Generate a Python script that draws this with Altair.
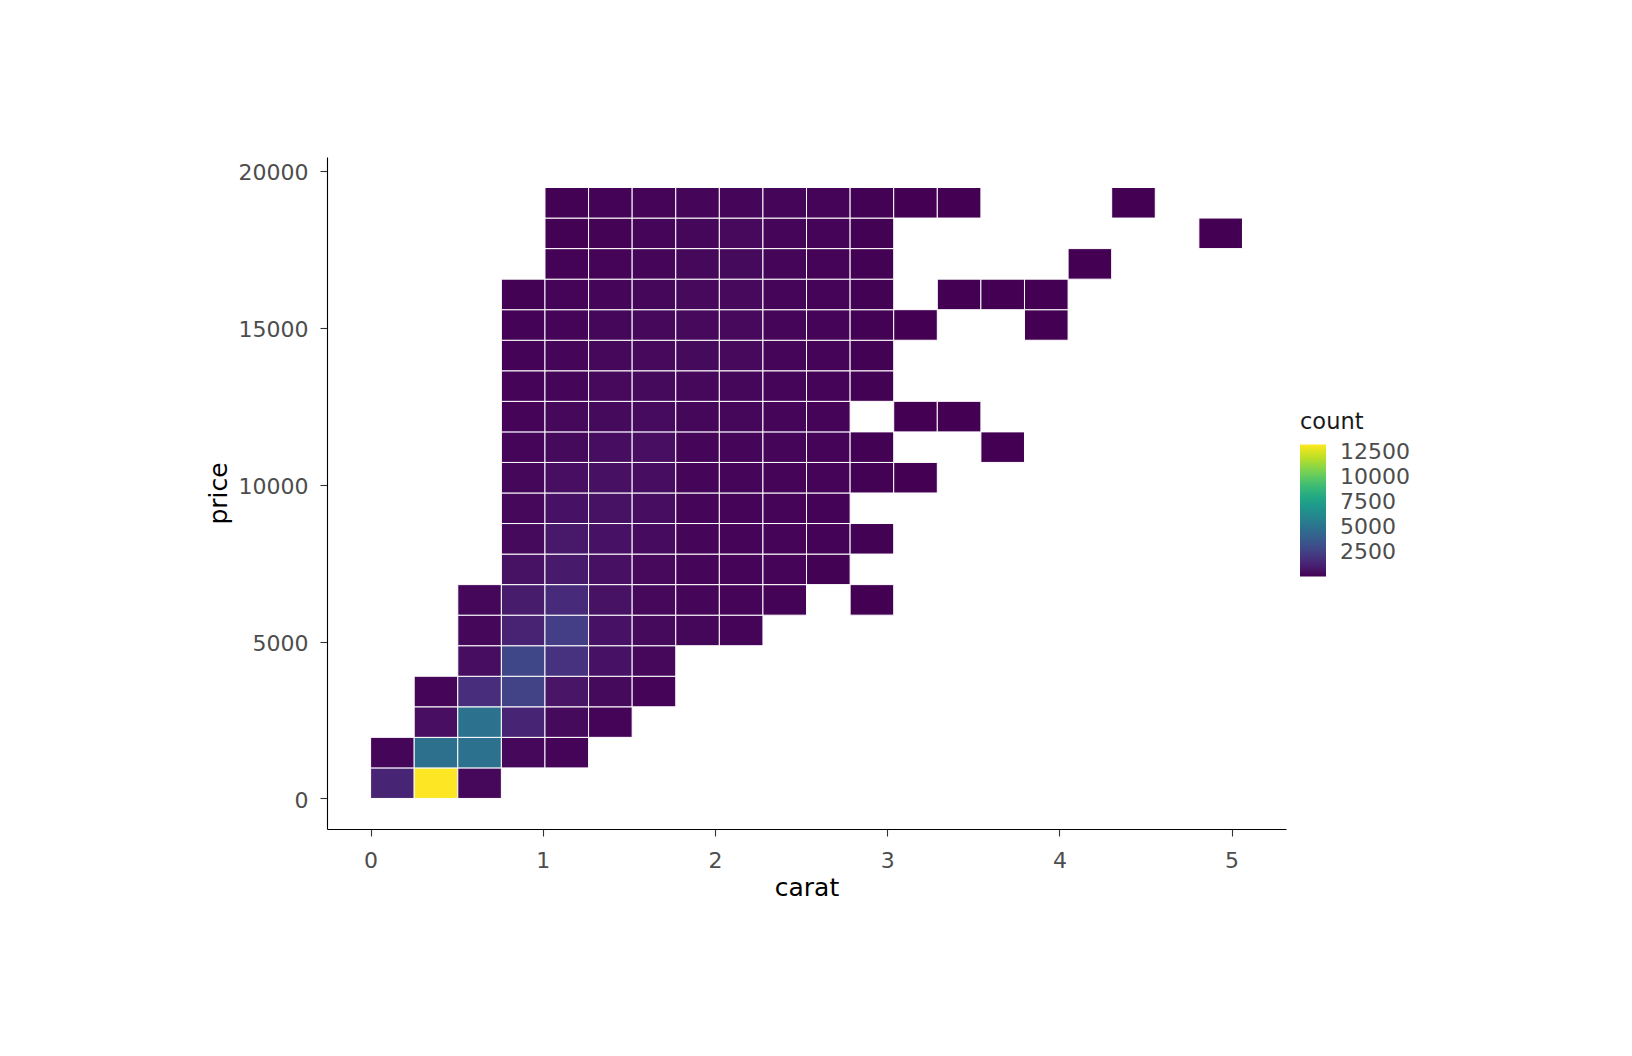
import altair as alt
import pandas as pd

# Bin sizes of the 2-D histogram (20 bins over the data range)
CARAT_BIN = 0.253158
PRICE_BIN = 973.526

# Price-bin rows (0 = lowest price bin): carat-bin columns present and their counts
row_cols = [
    [0, 1, 2],
    [0, 1, 2, 3, 4],
    [1, 2, 3, 4, 5],
    [1, 2, 3, 4, 5, 6],
    [2, 3, 4, 5, 6],
    [2, 3, 4, 5, 6, 7, 8],
    [2, 3, 4, 5, 6, 7, 8, 9, 11],
    [3, 4, 5, 6, 7, 8, 9, 10],
    [3, 4, 5, 6, 7, 8, 9, 10, 11],
    [3, 4, 5, 6, 7, 8, 9, 10],
    [3, 4, 5, 6, 7, 8, 9, 10, 11, 12],
    [3, 4, 5, 6, 7, 8, 9, 10, 11, 14],
    [3, 4, 5, 6, 7, 8, 9, 10, 12, 13],
    [3, 4, 5, 6, 7, 8, 9, 10, 11],
    [3, 4, 5, 6, 7, 8, 9, 10, 11],
    [3, 4, 5, 6, 7, 8, 9, 10, 11, 12, 15],
    [3, 4, 5, 6, 7, 8, 9, 10, 11, 13, 14, 15],
    [4, 5, 6, 7, 8, 9, 10, 11, 16],
    [4, 5, 6, 7, 8, 9, 10, 11, 19],
    [4, 5, 6, 7, 8, 9, 10, 11, 12, 13, 17],
]
row_counts = [
    [1300, 13300, 250],
    [150, 4900, 5000, 250, 120],
    [450, 5000, 1300, 300, 100],
    [150, 1700, 2600, 700, 300, 100],
    [400, 2800, 1900, 600, 250],
    [200, 1250, 2400, 600, 300, 200, 100],
    [200, 950, 1600, 550, 250, 150, 100, 60, 5],
    [550, 900, 500, 280, 150, 120, 90, 40],
    [300, 800, 600, 350, 150, 120, 90, 60, 20],
    [250, 600, 550, 400, 150, 120, 100, 60],
    [200, 450, 500, 400, 180, 150, 120, 90, 30, 6],
    [150, 320, 400, 450, 180, 180, 130, 90, 35, 2],
    [120, 230, 320, 350, 200, 200, 150, 90, 4, 3],
    [90, 180, 280, 300, 250, 220, 150, 100, 30],
    [70, 150, 230, 280, 300, 260, 150, 90, 25],
    [60, 120, 200, 230, 270, 270, 150, 90, 35, 6, 2],
    [30, 100, 150, 200, 270, 270, 150, 90, 30, 4, 3, 2],
    [60, 110, 150, 250, 300, 150, 100, 35, 1],
    [50, 80, 150, 220, 270, 160, 90, 30, 1],
    [40, 70, 120, 150, 180, 150, 90, 50, 12, 6, 2],
]

x_ticks = [0, 1, 2, 3, 4, 5]
y_ticks = [0, 5000, 10000, 15000, 20000]
legend_ticks = [2500, 5000, 7500, 10000, 12500]

records = []
for r, (cols, cnts) in enumerate(zip(row_cols, row_counts)):
    for c, n in zip(cols, cnts):
        records.append({
            "carat": c * CARAT_BIN,
            "carat2": (c + 1) * CARAT_BIN,
            "price": r * PRICE_BIN,
            "price2": (r + 1) * PRICE_BIN,
            "count": n,
        })
df = pd.DataFrame(records)

FONT = "DejaVu Sans"
cmin, cmax = min(df["count"]), max(df["count"])

chart = alt.Chart(df).mark_rect(stroke="white", strokeWidth=1).encode(
    x=alt.X("carat:Q",
            scale=alt.Scale(domain=[-0.2532, 5.316], nice=False, zero=False),
            axis=alt.Axis(values=x_ticks, title="carat", format="d")),
    x2="carat2:Q",
    y=alt.Y("price:Q",
            scale=alt.Scale(domain=[-974, 20443], nice=False, zero=False),
            axis=alt.Axis(values=y_ticks, title="price", format="d")),
    y2="price2:Q",
    color=alt.Color("count:Q",
                    scale=alt.Scale(scheme="viridis", domain=[cmin, cmax], nice=False, zero=False),
                    legend=alt.Legend(title="count", values=legend_ticks, format="d",
                                      orient="none", legendX=973, legendY=254,
                                      gradientLength=132, gradientThickness=26,
                                      gradientStrokeWidth=0,
                                      titleFontSize=22.5, titleFont=FONT, titleFontWeight="normal",
                                      titleColor="#1a1a1a", titlePadding=11,
                                      labelFontSize=22, labelFont=FONT, labelColor="#4d4d4d",
                                      labelOffset=14, direction="vertical")),
).properties(
    width=959, height=672,
    autosize=alt.AutoSizeParams(type="none"),
    padding={"left": 319, "top": 149, "right": 300, "bottom": 200},
).configure_view(
    stroke=None
).configure_axis(
    grid=False,
    domainColor="#000000", domainWidth=1.1,
    tickColor="#333333", tickSize=7, tickWidth=1.1,
    labelFont=FONT, labelFontSize=22, labelColor="#4d4d4d", labelPadding=12,
    titleFont=FONT, titleFontSize=25, titleFontWeight="normal", titleColor="#000000",
).configure_axisX(
    labelPadding=14,
    titlePadding=4,
).configure_axisY(
    labelOffset=2,
    titlePadding=7,
)

chart.save("out.html", embed_options={"renderer": "svg", "actions": False})
